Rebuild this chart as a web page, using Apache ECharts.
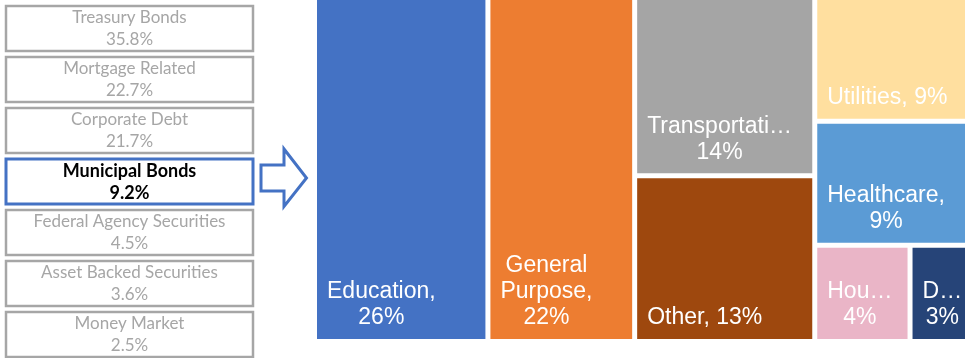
<!DOCTYPE html>
<html>
<head>
<meta charset="utf-8">
<script src="https://cdn.jsdelivr.net/npm/echarts@6/dist/echarts.min.js"></script>
<style>
  html, body { margin: 0; padding: 0; background: #fff; }
  #chart { width: 965px; height: 358px; }
</style>
</head>
<body>
<div id="chart"></div>
<script>
// Portfolio allocation by asset class (left-hand list)
const holdingNames = ['Treasury Bonds', 'Mortgage Related', 'Corporate Debt', 'Municipal Bonds',
  'Federal Agency Securities', 'Asset Backed Securities', 'Money Market'];
const holdingShares = [35.8, 22.7, 21.7, 9.2, 4.5, 3.6, 2.5];
const focusHolding = 'Municipal Bonds';

// Municipal bond holdings broken down by sector, in percent
const sectorNames = ['Education', 'General Purpose', 'Transportation', 'Other',
  'Utilities', 'Healthcare', 'Housing', 'Development'];
const sectorShares = [26, 22, 14, 13, 9, 9, 4, 3];
const sectorColors = ['#4472C4', '#ED7D31', '#A5A5A5', '#9E480E',
  '#FFDF9F', '#5B9BD5', '#EAB5C7', '#264478'];
// Nesting of the sectors (indexes into sectorNames) that shapes the tile arrangement
const sectorGroups = [0, 1, [[2, 3], [4, 5, [6, 7]]]];

const LABEL_FONT_SIZE = 23;
const LABEL_FONT_FAMILY = 'Liberation Sans';
const LABEL_LINE_HEIGHT = 26;
const LABEL_INSET = 10;      // gap between a tile's left edge and its label block
const LABEL_WRAP_PAD = 11.5; // horizontal room kept free when wrapping a label

const chart = echarts.init(document.getElementById('chart'), null, { renderer: 'canvas' });

// ---- left-hand list of asset classes, with the arrow pointing at the breakdown
const graphics = [];
holdingNames.forEach(function (name, i) {
  const top = 5 + 51 * i;
  const focus = name === focusHolding;
  const font = focus ? 'bold 18px Lato' : '17px Lato';
  graphics.push({
    type: 'rect',
    shape: { x: 6, y: top + 1, width: 247, height: 45 },
    style: { fill: '#fff', stroke: focus ? '#4472C4' : '#A6A6A6', lineWidth: focus ? 3 : 2.5 }
  });
  graphics.push({
    type: 'text',
    style: {
      text: name, x: 129.5, y: top + 13, align: 'center', verticalAlign: 'middle',
      fill: focus ? '#000' : '#A6A6A6', font: font
    }
  });
  graphics.push({
    type: 'text',
    style: {
      text: holdingShares[i].toFixed(1) + '%', x: 129.5, y: top + 35, align: 'center', verticalAlign: 'middle',
      fill: focus ? '#000' : '#A6A6A6', font: font
    }
  });
});
graphics.push({
  type: 'polygon',
  shape: { points: [[261, 165], [284, 165], [284, 149], [306.5, 178], [284, 206.5], [284, 191], [261, 191]] },
  style: { fill: '#fff', stroke: '#4472C4', lineWidth: 3, lineJoin: 'miter' }
});

// ---- text measuring used to wrap / shorten tile labels
const measureCtx = document.createElement('canvas').getContext('2d');
function textWidth(t) {
  measureCtx.font = LABEL_FONT_SIZE + 'px "' + LABEL_FONT_FAMILY + '"';
  return measureCtx.measureText(t).width;
}
function shorten(word, maxW) {
  let s = word;
  while (s.length > 1 && textWidth(s + '\u2026') > maxW) s = s.slice(0, -1);
  return s + '\u2026';
}
function wrapLabel(text, maxW) {
  const words = text.split(' ');
  const lines = [];
  let cur = '';
  words.forEach(function (w) {
    const cand = cur ? cur + ' ' + w : w;
    if (textWidth(cand) <= maxW) { cur = cand; return; }
    if (cur) lines.push(cur);
    cur = textWidth(w) <= maxW ? w : shorten(w, maxW);
  });
  if (cur) lines.push(cur);
  return lines;
}

let tileLabels = null;

function buildNode(g, key) {
  if (Array.isArray(g)) {
    return { id: 'group-' + key, name: '', children: g.map(function (c, j) { return buildNode(c, key + '-' + j); }) };
  }
  const node = {
    name: sectorNames[g],
    value: sectorShares[g],
    itemStyle: { color: sectorColors[g] }
  };
  if (tileLabels && tileLabels[g]) node.label = tileLabels[g];
  return node;
}
function buildTree() {
  return sectorGroups.map(function (g, j) { return buildNode(g, String(j)); });
}

const option = {
  animation: false,
  backgroundColor: '#fff',
  graphic: { elements: graphics },
  series: [{
    type: 'treemap',
    left: 317,
    top: 0,
    width: 662,
    height: 339,
    roam: false,
    nodeClick: false,
    sort: false,
    squareRatio: 0.1,
    breadcrumb: { show: false },
    itemStyle: { borderWidth: 0, gapWidth: 5, borderColor: '#fff' },
    upperLabel: { show: false },
    label: { show: false },
    emphasis: { disabled: true },
    data: buildTree()
  }]
};
chart.setOption(option);

// Second pass: size each tile's label from the tile the treemap laid out
const tileWidths = {};
try {
  const data = chart.getModel().getSeriesByIndex(0).getData();
  for (let i = 0; i < data.count(); i++) {
    const idx = sectorNames.indexOf(data.getName(i));
    const lay = data.getItemLayout(i);
    if (idx >= 0 && lay) tileWidths[idx] = lay.width;
  }
} catch (e) { /* keep defaults */ }

tileLabels = sectorNames.map(function (name, i) {
  const w = tileWidths[i] != null ? tileWidths[i] : 150;
  const lines = wrapLabel(name + ', ' + sectorShares[i] + '%', w - 2 * LABEL_WRAP_PAD);
  const blockW = Math.max.apply(null, lines.map(textWidth));
  return {
    show: true,
    formatter: lines.join('\n'),
    position: [LABEL_INSET + blockW / 2, '100%'],
    align: 'center',
    verticalAlign: 'bottom',
    offset: [0, -8],
    padding: 0,
    color: '#fff',
    fontFamily: LABEL_FONT_FAMILY,
    fontSize: LABEL_FONT_SIZE,
    lineHeight: LABEL_LINE_HEIGHT,
    overflow: 'none',
    textBorderWidth: 0
  };
});

chart.setOption({ series: [{ data: buildTree() }] });
</script>
</body>
</html>
